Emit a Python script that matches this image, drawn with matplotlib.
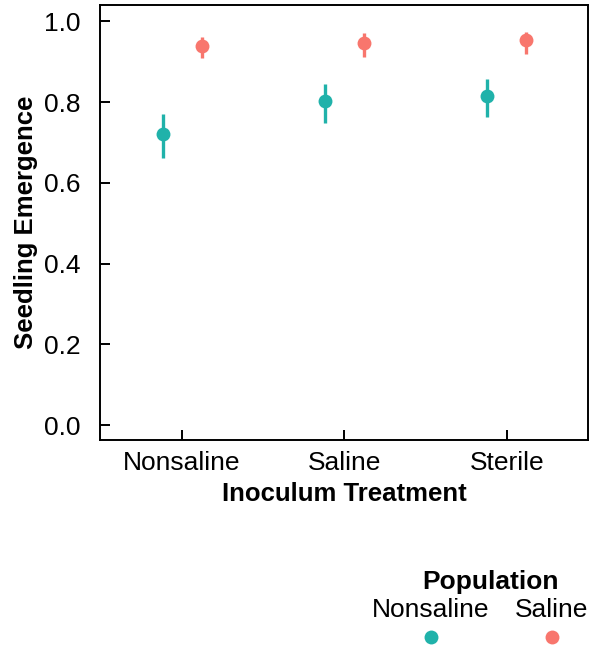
import numpy as np
import matplotlib
matplotlib.use("Agg")
from matplotlib import pyplot as plt

plt.rcParams['font.family'] = ['Liberation Sans', 'DejaVu Sans']

treatments = ["Nonsaline", "Saline", "Sterile"]
populations = ["Nonsaline", "Saline"]
colors = ["#20B2AA", "#F8766D"]

# mean emergence and error bar limits, per population
means = {"Nonsaline": [0.720, 0.802, 0.814],
         "Saline": [0.938, 0.946, 0.953]}
lower = {"Nonsaline": [0.661, 0.748, 0.762],
         "Saline": [0.908, 0.911, 0.918]}
upper = {"Nonsaline": [0.770, 0.844, 0.856],
         "Saline": [0.960, 0.970, 0.973]}

fig = plt.figure(figsize=(5.91, 6.49), dpi=100)
ax = fig.add_axes([0.169, 0.322, 0.826, 0.670])

x = np.arange(1, len(treatments) + 1)
offsets = [-0.12, 0.12]
for pop, col, off in zip(populations, colors, offsets):
    m = np.array(means[pop])
    lo = np.array(lower[pop])
    hi = np.array(upper[pop])
    ax.vlines(x + off, lo, hi, color=col, lw=2.4)
    ax.plot(x + off, m, 'o', color=col, ms=10, mec='none')

ax.set_xlim(0.494, 3.5)
ax.set_ylim(-0.037, 1.04)
ax.set_xticks(x)
ax.set_xticklabels(treatments)
ax.set_yticks([0.0, 0.2, 0.4, 0.6, 0.8, 1.0])
ax.set_yticklabels(["0.0", "0.2", "0.4", "0.6", "0.8", "1.0"])
ax.tick_params(labelsize=19, length=7, width=1.4, colors='black', direction='in')
ax.tick_params(axis='y', pad=14)
ax.tick_params(axis='x', pad=8)
for s in ax.spines.values():
    s.set_linewidth(1.4)
ax.set_xlabel("Inoculum Treatment", fontsize=18.5, fontweight='bold', labelpad=5)
ax.set_ylabel("Seedling Emergence", fontsize=18.5, fontweight='bold', labelpad=4)

# legend: title, labels above keys
fig.text(490 / 591, 1 - 582 / 649, "Population", fontsize=19, fontweight='bold',
         ha='center', va='center')
leg_x = [431, 552]
for pop, col, lx in zip(populations, colors, leg_x):
    fig.text(lx / 591, 1 - 610 / 649, pop, fontsize=19, ha='center', va='center')
    fig.lines.append(plt.Line2D([lx / 591], [1 - 637 / 649], marker='o', ms=10,
                                color=col, mec='none', transform=fig.transFigure))

fig.savefig("out.png", dpi=100)
